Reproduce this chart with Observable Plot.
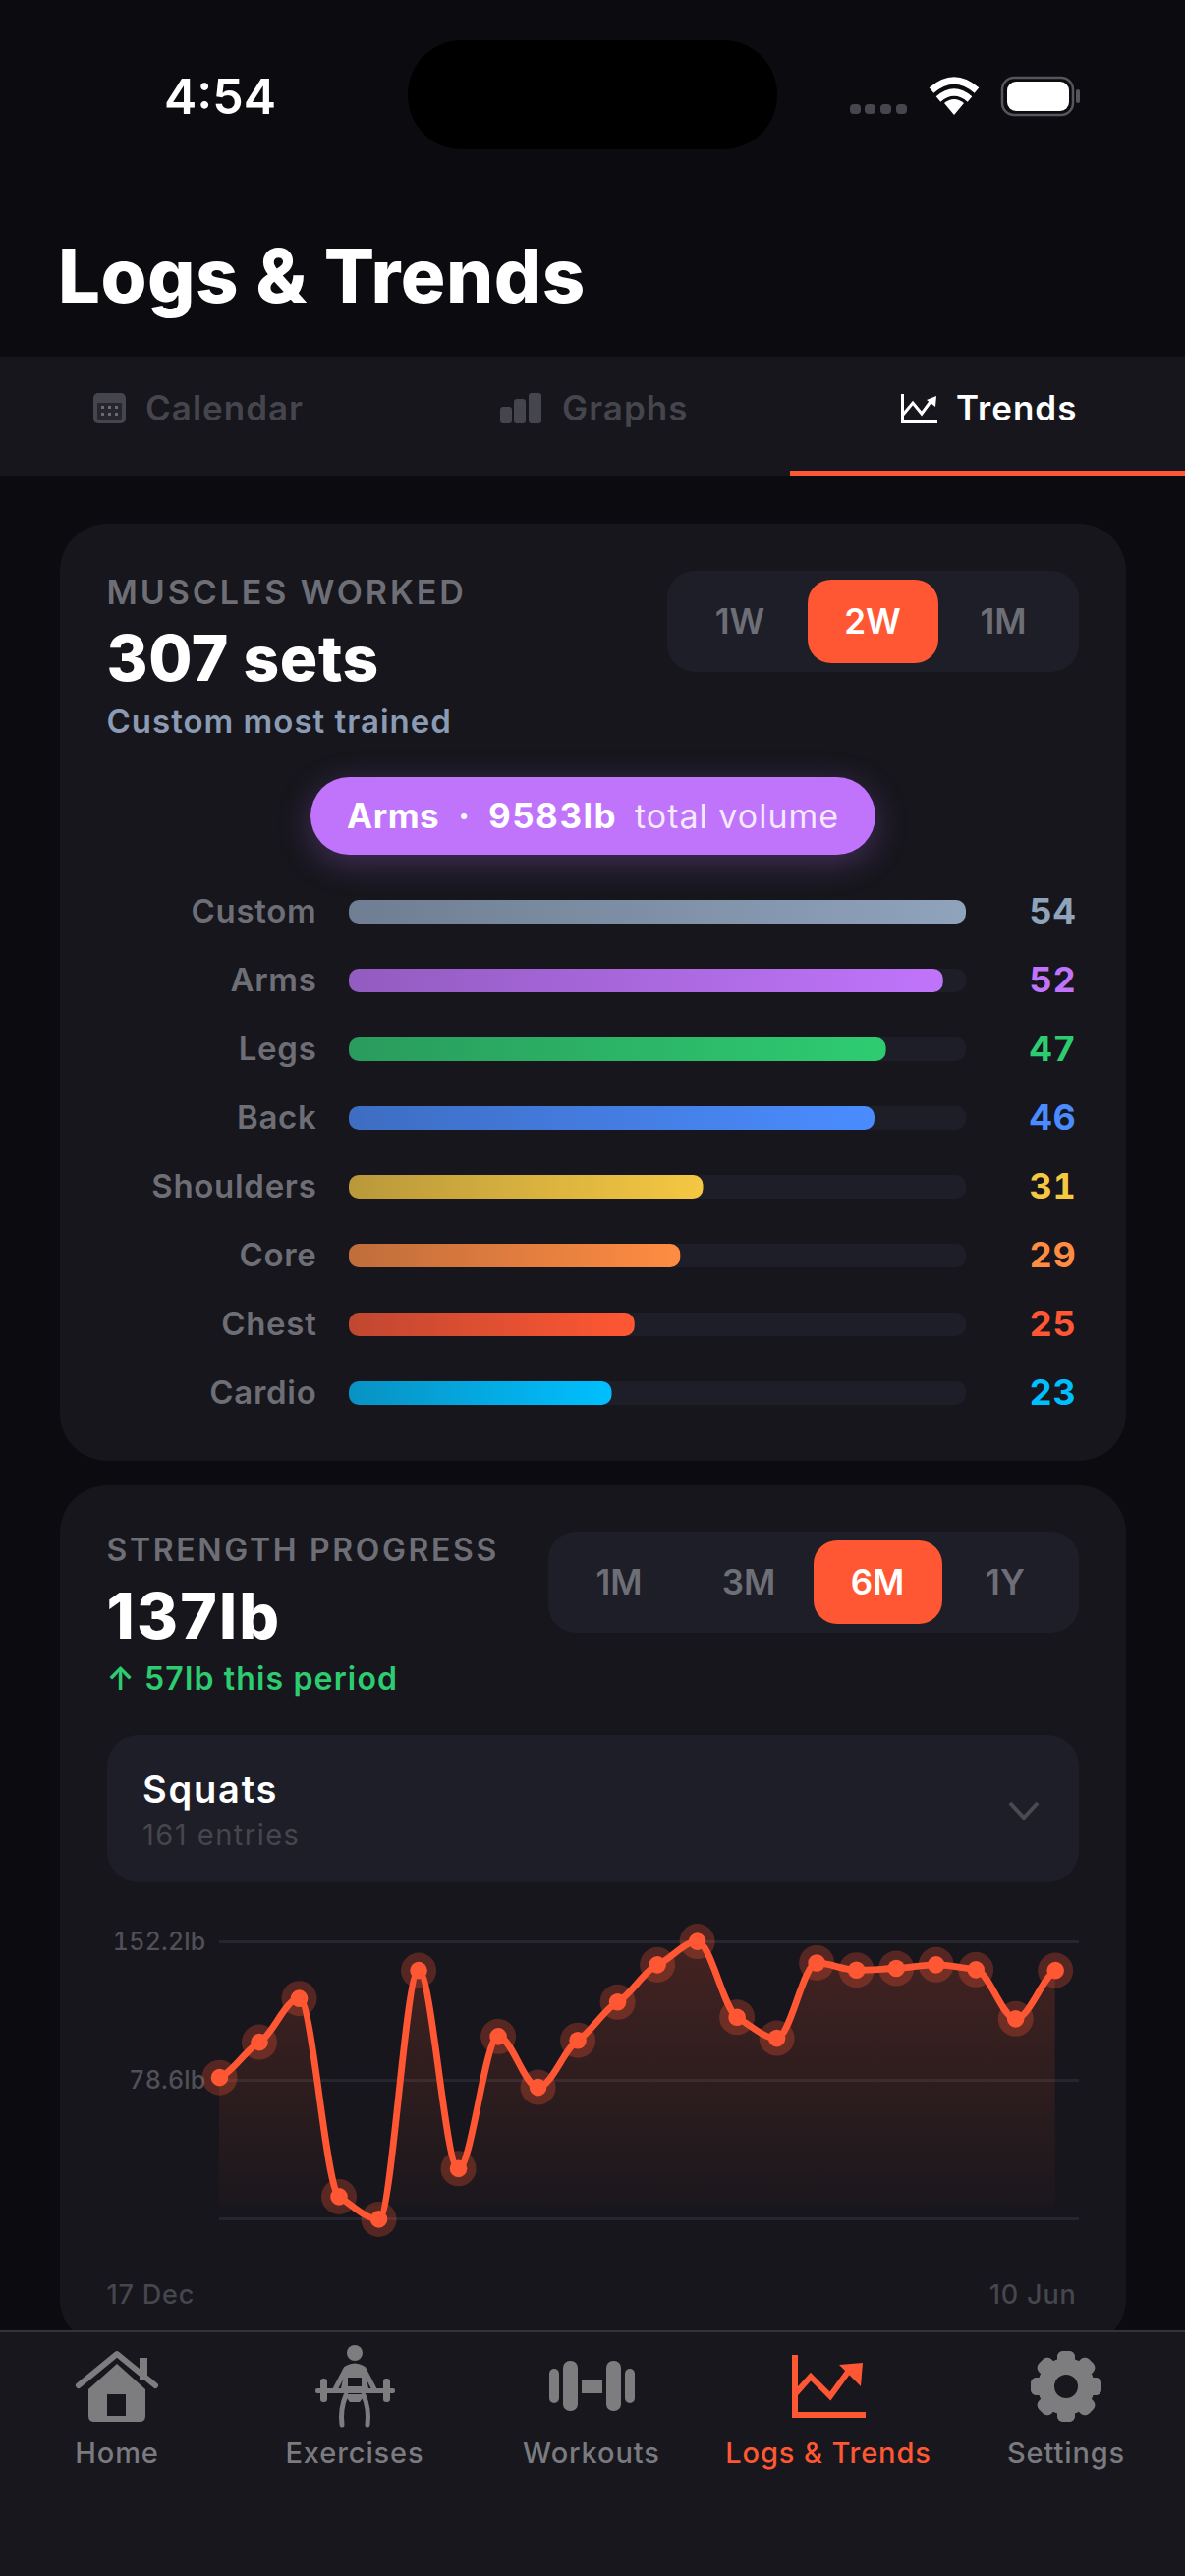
<!DOCTYPE html>
<html><head><meta charset="utf-8">
<style>
html,body{margin:0;padding:0;width:1206px;height:2622px;overflow:hidden;background:#0b0b10;font-family:Inter,"Noto Sans",sans-serif}
.b{position:absolute;box-sizing:border-box}
.t{position:absolute;white-space:nowrap;line-height:1}
</style>
<script src="https://cdn.jsdelivr.net/npm/d3@7"></script>
<script src="https://cdn.jsdelivr.net/npm/@observablehq/plot@0.6"></script>
</head><body>
<div id="root"></div>
<script>
// ---- chart data ----
const muscleNames = ["Custom","Arms","Legs","Back","Shoulders","Core","Chest","Cardio"];
const muscleSets = [54,52,47,46,31,29,25,23];
const muscleColors = ["#8fa3bb","#c074fb","#2ecc71","#4a8cff","#f5c842","#ff8c42","#ff5733","#00bfff"];
const squatWeights = [80.1,98.9,122.1,16.8,4.8,137,31.7,101.9,74.9,99.9,120.2,140,152.4,112.1,101,141,137.2,138.1,140,137.4,111.3,137];
const gridValues = [5,78.6,152.2];
const labelledTicks = [78.6,152.2];
const dateLabels = ["17 Dec","10 Jun"];
const areaFloor = 11.6;

const root = document.getElementById("root");
const C = {bg:"#0b0b10",card:"#16161c",seg:"#1e1e28",acc:"#ff5733",mut:"#6e6e76",dim:"#46464e",nav:"#7b7b7f"};
function box(x,y,w,h,bg,r,extra){const d=document.createElement("div");d.className="b";
  d.style.cssText=`left:${x}px;top:${y}px;width:${w}px;height:${h}px;background:${bg};border-radius:${r||0}px;${extra||""}`;root.appendChild(d);return d;}
function text(s,x,base,size,weight,color,o){o=o||{};const d=document.createElement("div");d.className="t";d.textContent=s;
  const top=base-0.8636*size;const anchor=o.anchor||"start";
  const tx=anchor==="middle"?"translateX(-50%)":anchor==="end"?"translateX(-100%)":"none";
  d.style.cssText=`left:${x}px;top:${top}px;font-size:${size}px;font-weight:${weight};color:${color};letter-spacing:${o.ls||0}px;transform:${tx};`;root.appendChild(d);return d;}
function place(svg,top){svg.style.position="absolute";svg.style.left="0";svg.style.top=top+"px";svg.style.maxWidth="none";svg.style.overflow="visible";root.appendChild(svg);}

// ---- header ----
box(415,41,376,111,"#000",55);
text("4:54",167,116,50,600,"#fff");
text("Logs & Trends",59,308,76,800,"#fff",{ls:0.5});
box(0,363,1206,121,C.card,0);
box(0,484,1206,1,"#33333a",0);
box(804,479,402,5,C.acc,0);
text("Calendar",148,428,35,600,"#45454d",{ls:1});
text("Graphs",572,428,35,600,"#45454d",{ls:1});
text("Trends",973,428,35,600,"#fff",{ls:1});

// ---- card 1 ----
box(61,533,1085,954,C.card,48);
text("MUSCLES WORKED",108.5,615,34,600,C.mut,{ls:2.9});
text("307 sets",108.5,693,64,800,"#fff",{ls:0.6});
text("Custom most trained",108.5,746,33,600,"#8b9bb4",{ls:1});
box(679,581,419,103,C.seg,28);
box(822,590,133,85,C.acc,24);
text("1W",753,645,35,600,C.mut,{anchor:"middle"});
text("2W",888,645,35,600,"#fff",{anchor:"middle"});
text("1M",1021,645,35,600,C.mut,{anchor:"middle"});
box(316,791,575,79,"#c074fb",40,"box-shadow:0 8px 34px rgba(192,116,251,.28);");
text("Arms",353,843,35,700,"#fff",{ls:.5});
text("·",472,843,35,700,"#fff",{anchor:"middle"});
text("9583lb",497,843,35,700,"#fff",{ls:1.5});
text("total volume",646,843,34,400,"rgba(255,255,255,.85)",{ls:1});

// ---- card 2 ----
box(61,1512,1085,876,C.card,48);
text("STRENGTH PROGRESS",108.5,1590,32,600,C.mut,{ls:2.65});
text("137lb",108.5,1668,64,800,"#fff",{ls:2.2});
text("↑ 57lb this period",108.5,1721,32,600,"#2ecc71",{ls:1.15});
box(558,1559,540,103,C.seg,28);
box(828,1568,131,85,C.acc,24);
text("1M",630,1623,35,600,C.mut,{anchor:"middle"});
text("3M",762,1623,35,600,C.mut,{anchor:"middle"});
text("6M",893,1623,35,600,"#fff",{anchor:"middle"});
text("1Y",1023,1623,35,600,C.mut,{anchor:"middle"});
box(109,1766,989,150,C.seg,32);
text("Squats",145,1835,38,600,"#fff",{ls:1.8});
text("161 entries",145,1878,29,400,"#46464e",{ls:1.5});

// ---- bar chart ----
const rows = muscleNames.map((name,i)=>({name,sets:muscleSets[i],color:muscleColors[i],grad:`url(#bar${i})`}));
const barPlot = Plot.plot({
  width:1206,height:560,marginLeft:355,marginRight:223,marginTop:0,marginBottom:0,
  style:{background:"transparent",fontFamily:"Inter"},
  x:{domain:[0,d3.max(muscleSets)],axis:null},
  y:{type:"band",domain:muscleNames,paddingInner:46/70,paddingOuter:23/70,align:0.5,round:false,label:null},
  color:{type:"identity"},
  marks:[
    Plot.axisY({anchor:"left",tickSize:0,tickPadding:33,fontSize:33,fontWeight:600,color:C.mut,label:null}),
    Plot.barX(rows,{x1:()=>0,x2:()=>d3.max(muscleSets),y:"name",fill:C.seg,rx:10}),
    Plot.barX(rows,{x1:()=>0,x2:"sets",y:"name",fill:"grad",rx:10}),
    Plot.text(rows,{text:"sets",y:"name",frameAnchor:"right",dx:112,textAnchor:"end",fill:"color",fontSize:36,fontWeight:700})
  ]
});
const barDefs = d3.create("svg:defs");
rows.forEach((r,i)=>{const g=barDefs.append("linearGradient").attr("id","bar"+i);
  g.append("stop").attr("offset",0).attr("stop-color",r.color).attr("stop-opacity",.72);
  g.append("stop").attr("offset",1).attr("stop-color",r.color);});
barPlot.insertBefore(barDefs.node(),barPlot.firstChild);
d3.select(barPlot).selectAll("text").style("letter-spacing","0.7px");
place(barPlot,893);

// ---- line chart ----
const idx=(d,i)=>i;
const lineColor="#ff5733";
// a monotone cubic with softened tangents, as a d3-style curve factory
function softCurve(ctx){
  let pts=[],line=NaN;
  return {
    areaStart(){line=0},areaEnd(){line=NaN},
    lineStart(){pts=[]},
    point(x,y){pts.push([x,y])},
    lineEnd(){
      const n=pts.length;if(!n)return;
      const sl=i=>(pts[i+1][1]-pts[i][1])/(pts[i+1][0]-pts[i][0]);
      const m=pts.map((p,i)=>{
        if(n<2)return 0;
        if(i===0)return sl(0)*.45;
        if(i===n-1)return sl(n-2)*.45;
        const a=sl(i-1),b=sl(i);
        if(a*b<=0)return 0;
        return Math.sign(a)*Math.min(Math.abs(a),Math.abs(b),Math.abs(a+b)/4)*1.1;
      });
      if(line)ctx.lineTo(pts[0][0],pts[0][1]);else ctx.moveTo(pts[0][0],pts[0][1]);
      for(let i=1;i<n;i++){
        const h=(pts[i][0]-pts[i-1][0])/3;
        ctx.bezierCurveTo(pts[i-1][0]+h,pts[i-1][1]+m[i-1]*h,pts[i][0]-h,pts[i][1]-m[i]*h,pts[i][0],pts[i][1]);
      }
      if(line===1)ctx.closePath();
      line=1-line;
    }
  };
}
const linePlot = Plot.plot({
  width:1206,height:450,marginLeft:223,marginRight:108,marginTop:56,marginBottom:112,
  style:{background:"transparent",fontFamily:"Inter"},
  x:{type:"linear",domain:[0,21.6],axis:null},
  y:{type:"linear",domain:[5,152.2],label:null},
  marks:[
    Plot.ruleY(gridValues,{stroke:"#26262e",strokeWidth:3}),
    Plot.axisY(labelledTicks,{anchor:"left",tickSize:0,tickPadding:14,fontSize:25,fontWeight:500,color:"#505058",label:null,tickFormat:d=>`${d}lb`}),
    Plot.areaY(squatWeights,{x:idx,y1:()=>areaFloor,y2:d=>d,fill:"url(#areaFill)",curve:softCurve}),
    Plot.dot(squatWeights,{x:idx,y:d=>d,r:18,fill:lineColor,fillOpacity:.28}),
    Plot.lineY(squatWeights,{x:idx,y:d=>d,stroke:lineColor,strokeWidth:6.8,curve:softCurve}),
    Plot.dot(squatWeights,{x:idx,y:d=>d,r:8.8,fill:lineColor}),
    Plot.text([dateLabels[0]],{frameAnchor:"bottom-left",text:d=>d,dx:-115,dy:86,lineAnchor:"bottom",textAnchor:"start",fontSize:27,fontWeight:500,fill:C.dim}),
    Plot.text([dateLabels[1]],{frameAnchor:"bottom-right",text:d=>d,dx:-3,dy:86,lineAnchor:"bottom",textAnchor:"end",fontSize:27,fontWeight:500,fill:C.dim})
  ]
});
const lineDefs = d3.create("svg:defs");
const ag=lineDefs.append("linearGradient").attr("id","areaFill").attr("x1",0).attr("y1",0).attr("x2",0).attr("y2",1);
ag.append("stop").attr("offset",0).attr("stop-color",lineColor).attr("stop-opacity",.2);
ag.append("stop").attr("offset",1).attr("stop-color",lineColor).attr("stop-opacity",.01);
linePlot.insertBefore(lineDefs.node(),linePlot.firstChild);
d3.select(linePlot).selectAll("text").style("letter-spacing","0.8px");
d3.select(linePlot).selectAll('[aria-label="y-axis tick label"] text').style("letter-spacing","0.2px");
place(linePlot,1920);

// ---- bottom nav ----
box(0,2372,1206,250,"#17171d",0,"border-top:2px solid #33333a;");
[["Home",119],["Exercises",361],["Workouts",602],["Logs & Trends",843],["Settings",1085]].forEach(([s,x],i)=>
  text(s,x,2507,29,500,i===3?C.acc:C.nav,{anchor:"middle",ls:.9}));

// ---- decorative icons (status bar, tabs, nav) ----
const G="#7d7d80",CARD="#17171d";
let teeth="";for(let a=0;a<360;a+=45)teeth+=`<rect x="1076" y="2393" width="18" height="72" rx="6" fill="${G}" transform="rotate(${a} 1085 2429)"/>`;
const icons=`<svg xmlns="http://www.w3.org/2000/svg" width="1206" height="2622" style="position:absolute;left:0;top:0;pointer-events:none">
<g fill="#46464e"><rect x="865" y="106" width="11" height="10" rx="4"/><rect x="880" y="106" width="11" height="10" rx="4"/><rect x="896" y="106" width="11" height="10" rx="4"/><rect x="912" y="106" width="11" height="10" rx="4"/></g>
<g fill="none" stroke="#fff" stroke-width="7" stroke-linecap="butt"><path d="M948 92Q971 72 994 92"/><path d="M955 101Q971 87 987 101"/></g><path d="M971 117L961 105Q971 97 981 105Z" fill="#fff"/>
<rect x="1020" y="79" width="72" height="38" rx="12" fill="none" stroke="#55555c" stroke-width="2.5"/><rect x="1025" y="83" width="63" height="30" rx="9" fill="#fff"/><rect x="1095" y="91" width="4" height="14" rx="2" fill="#55555c"/>
<rect x="95" y="400" width="33" height="31" rx="5" fill="#45454d"/><rect x="99" y="410" width="25" height="17" rx="1" fill="#26262c"/><g fill="#6a6a72"><rect x="103" y="413" width="3" height="3"/><rect x="110" y="413" width="3" height="3"/><rect x="117" y="413" width="3" height="3"/><rect x="103" y="420" width="3" height="3"/><rect x="110" y="420" width="3" height="3"/><rect x="117" y="420" width="3" height="3"/></g>
<g fill="#45454d"><rect x="509" y="414" width="12" height="17" rx="3"/><rect x="523" y="406" width="12" height="25" rx="3"/><rect x="538" y="400" width="13" height="31" rx="3"/></g>
<g fill="none" stroke="#fff" stroke-width="3"><path d="M918.5 401V429.5H954"/><path d="M919 422L929 410L938 421L949 406"/></g><path d="M943 407L953 403L952 414Z" fill="#fff"/>
<path d="M80 2428L119 2396L158 2428" fill="none" stroke="${G}" stroke-width="6" stroke-linecap="round" stroke-linejoin="round"/><rect x="142" y="2400" width="8" height="22" fill="${G}"/>
<path d="M119 2406L148 2432V2459Q148 2465 142 2465H96Q90 2465 90 2459V2432Z" fill="${G}"/><rect x="109" y="2437" width="19" height="22" fill="${CARD}"/>
<g fill="${G}"><ellipse cx="361" cy="2395" rx="8" ry="8"/><rect x="321" y="2431" width="81" height="5" rx="2"/><rect x="326" y="2421" width="7" height="24" rx="3"/><rect x="390" y="2421" width="7" height="24" rx="3"/><path d="M352 2408Q361 2403 370 2408L375 2431H347Z"/></g><rect x="354" y="2420" width="14" height="9" fill="${CARD}"/>
<g fill="none" stroke="${G}" stroke-width="5" stroke-linecap="round"><path d="M352 2411L341 2432"/><path d="M370 2411L381 2432"/><path d="M352 2438Q346 2452 348 2468"/><path d="M370 2438Q376 2452 374 2468"/></g><path d="M350 2437H372L366 2445H356Z" fill="${G}"/>
<g fill="${G}"><rect x="559" y="2411" width="10" height="35" rx="5"/><rect x="573" y="2403" width="15" height="51" rx="7"/><rect x="592" y="2422" width="21" height="14"/><rect x="617" y="2403" width="15" height="51" rx="7"/><rect x="636" y="2411" width="10" height="35" rx="5"/></g>
<g fill="none" stroke="${C.acc}" stroke-width="6"><path d="M809 2397V2458H881"/><path d="M809 2437L825 2419L845 2439L866 2410" stroke-linejoin="miter"/></g><path d="M854 2407L878 2405L876 2429Z" fill="${C.acc}"/>
${teeth}<circle cx="1085" cy="2429" r="29" fill="${G}"/><circle cx="1085" cy="2429" r="12" fill="${CARD}"/>
<path d="M1028 1835L1042 1850L1056 1835" fill="none" stroke="#4a4a52" stroke-width="4"/></svg>`;
root.insertAdjacentHTML("beforeend",icons);
</script>
</body></html>
